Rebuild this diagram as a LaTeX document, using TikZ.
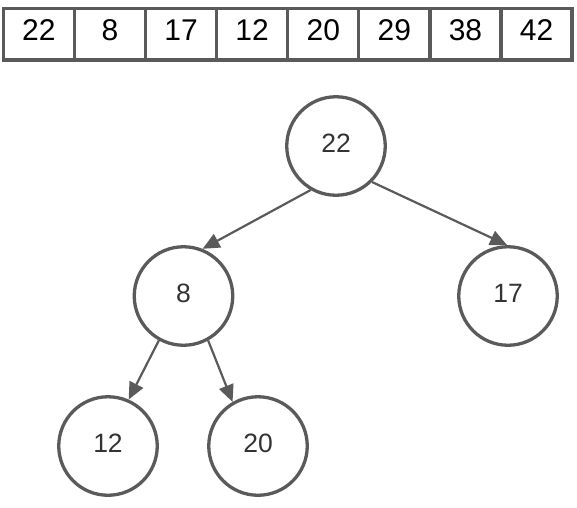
\documentclass[tikz,border=0pt]{standalone}
\usepackage{fontspec}
\setmainfont{Liberation Sans}
\usetikzlibrary{arrows.meta}
\definecolor{edgegray}{RGB}{90,90,90}
\definecolor{txtgray}{RGB}{51,51,51}
\tikzset{
  cell/.style={draw=edgegray, line width=3.3pt, rectangle, minimum width=71.1pt, minimum height=51.5pt, inner sep=0pt, text depth=9pt, font=\fontsize{30}{31}\selectfont, text=black},
  tnode/.style={draw=edgegray, line width=3.3pt, circle, minimum size=98.5pt, inner sep=0pt, text depth=6pt, font=\fontsize{26.5}{28}\selectfont, text=txtgray},
  link/.style={draw=edgegray, line width=2.2pt, -{Triangle[length=17pt,width=15pt]}}
}
\begin{document}
\begin{tikzpicture}[x=1pt,y=-1pt]
\useasboundingbox (0,0) rectangle (577,507);
\foreach \v [count=\i from 0] in {22,8,17,12,20,29,38,42}{
  \node[cell] (c\i) at ({3.3+71.1*(\i+0.5)},34.25) {\v};
}
\node[tnode] (n22) at (336,146) {22};
\node[tnode] (n8) at (183.5,296) {8};
\node[tnode] (n17) at (508,296) {17};
\node[tnode] (n12) at (108,446) {12};
\node[tnode] (n20) at (258,446) {20};
\draw[link] (n22.-120.6) -- (n8.68);
\draw[link] (n22.-45.8) -- (n17.91);
\draw[link] (n8.-119) -- (n12.66);
\draw[link] (n8.-61) -- (n20.120);
\end{tikzpicture}
\end{document}
